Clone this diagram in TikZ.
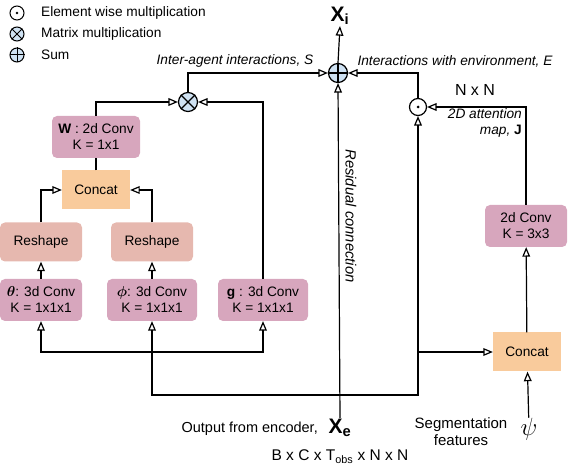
\documentclass[tikz,border=0pt]{standalone}
\usepackage{amsmath}
\usepackage{fontspec}
\setmainfont{Liberation Sans}
\usetikzlibrary{positioning, arrows}

\definecolor{convpink}{RGB}{215,166,189}
\definecolor{reshapered}{RGB}{230,184,175}
\definecolor{concatorange}{RGB}{249,203,156}
\definecolor{opblue}{RGB}{207,226,243}

\tikzset{
  convbox/.style={rectangle, rounded corners=5pt, fill=convpink, minimum width=82pt, minimum height=42pt, align=center, inner sep=2pt},
  reshapebox/.style={rectangle, rounded corners=5pt, fill=reshapered, minimum width=82pt, minimum height=39pt, inner sep=2pt},
  concatbox/.style={rectangle, fill=concatorange, minimum width=68pt, minimum height=39pt, inner sep=2pt},
  opcircle/.style={circle, draw, line width=1.2pt, fill=opblue, minimum size=19pt, inner sep=0pt},
  flow/.style={line width=1.2pt, ->, >=open triangle 45},
  wire/.style={line width=1.2pt},
  lbl/.style={inner sep=1pt},
}

\begin{document}
\begin{tikzpicture}[x=1pt,y=-1pt,font=\fontsize{13.7}{16}\selectfont]
\useasboundingbox (0,0) rectangle (568,470);

% legende
\node[opcircle, fill=white, minimum size=14pt, line width=1pt] (legdot) at (17,13) {};
\fill (legdot.center) circle (1.4pt);
\node[opcircle, minimum size=14pt, line width=1pt] (legmm) at (17,34) {};
\draw[line width=1pt] (legmm.north east) -- (legmm.south west) (legmm.north west) -- (legmm.south east);
\node[opcircle, minimum size=14pt, line width=1pt] (legsum) at (17,55) {};
\draw[line width=1pt] (legsum.north) -- (legsum.south) (legsum.west) -- (legsum.east);
\node[lbl, anchor=west] (legdottxt) at (40,13) {Element wise multiplication};
\node[lbl, anchor=west] (legmmtxt) at (40,34) {Matrix multiplication};
\node[lbl, anchor=west] (legsumtxt) at (40,55) {Sum};

% operateurs
\node[opcircle] (sum) at (338,73) {};
\draw[line width=1.2pt] (sum.north) -- (sum.south) (sum.west) -- (sum.east);
\node[opcircle] (mm) at (188,102) {};
\draw[line width=1.2pt] (mm.north east) -- (mm.south west) (mm.north west) -- (mm.south east);
\node[opcircle, fill=white, minimum size=17pt] (em) at (418,107) {};
\fill (em.center) circle (1.5pt);

% branche gauche
\node[convbox, minimum width=88pt] (convW) at (96,137) {\textbf{W} : 2d Conv\\K = 1x1};
\node[concatbox] (concatL) at (96,190) {Concat};
\node[reshapebox] (reshT) at (41,242) {Reshape};
\node[reshapebox] (reshP) at (152,242) {Reshape};
\node[convbox] (convT) at (41,300) {$\boldsymbol{\theta}$: 3d Conv\\K = 1x1x1};
\node[convbox, minimum width=90pt] (convP) at (152,300) {$\boldsymbol{\phi}$: 3d Conv\\K = 1x1x1};
\node[convbox, minimum width=90pt] (convG) at (263,300) {\textbf{g} : 3d Conv\\K = 1x1x1};

% branche droite
\node[convbox] (convJ) at (526,226) {2d Conv\\K = 3x3};
\node[concatbox] (concatR) at (527,352) {Concat};

% entrees / sortie
\node[lbl, font=\fontsize{21}{24}\selectfont\bfseries] (Xi) at (340,16) {X\textsubscript{i}};
\node[lbl, font=\fontsize{21}{24}\selectfont\bfseries] (Xe) at (340,428) {X\textsubscript{e}};
\node[lbl, inner sep=0pt, font=\fontsize{31}{34}\selectfont] (psi) at (529,429) {$\psi$};
\coordinate (split) at (338,395);
\coordinate (tapL) at (152,352);
\coordinate (tapR) at (418,352);

% fleches
\draw[flow] (sum.north) -- (Xi.south);
\draw[flow] (mm.north) |- (sum.west);
\draw[flow] (em.north) |- (sum.east);
\draw[flow] (convW.north) |- (mm.west);
\draw[flow] (convG.north) |- (mm.east);
\draw[wire] (concatL) -- (convW);
\draw[flow] (reshT.north) |- (concatL.west);
\draw[flow] (reshP.north) |- (concatL.east);
\draw[flow] (convT) -- (reshT);
\draw[flow] (convP) -- (reshP);
\draw[flow] (Xe.north) -- (sum.south);
\draw[flow] (split) -| (convP.south);
\draw[flow] (tapL) -| (convT.south);
\draw[flow] (tapL) -| (convG.south);
\draw[flow] (split) -| (em.south);
\draw[flow] (tapR) -- (concatR.west);
\draw[flow] (concatR) -- (convJ);
\draw[flow] (psi) -- (concatR);
\draw[flow] (convJ.north) |- (em.east);

% textes
\node[lbl, font=\fontsize{13.7}{16}\selectfont\itshape] (intS) at (235,61) {Inter-agent interactions, S};
\node[lbl, font=\fontsize{13.7}{16}\selectfont\itshape] (intE) at (455,61) {Interactions with environment, E};
\node[lbl, font=\fontsize{16}{18}\selectfont] (nxn) at (475,90) {N x N};
\node[lbl, align=right, anchor=north east, font=\fontsize{13.7}{16}\selectfont\itshape] (attJ) at (523,107) {2D attention\\map, \textbf{\upshape J}};
\node[lbl, rotate=-90, font=\fontsize{14.8}{17}\selectfont\itshape] (resid) at (351,216) {Residual connection};
\node[lbl, anchor=east, font=\fontsize{14.5}{17}\selectfont] (outenc) at (319,429) {Output from encoder,};
\node[lbl, font=\fontsize{15.5}{18}\selectfont] (shape) at (340,457) {B x C x T\textsubscript{obs} x N x N};
\node[lbl, align=center, font=\fontsize{15}{17}\selectfont] (segf) at (461,432) {Segmentation\\features};
\end{tikzpicture}
\end{document}
